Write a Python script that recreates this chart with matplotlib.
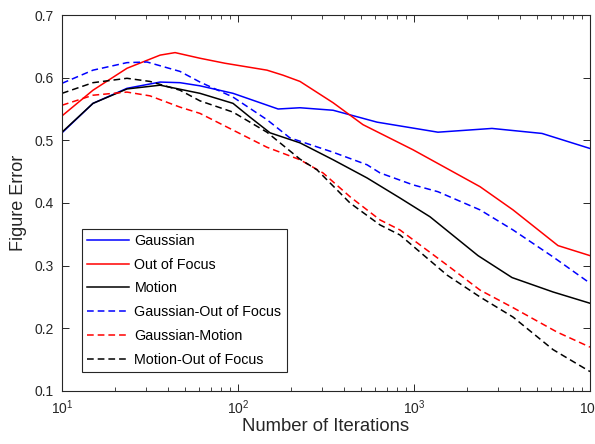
import matplotlib
matplotlib.use("Agg")
import matplotlib.pyplot as plt
from matplotlib.ticker import LogLocator, NullFormatter

plt.rcParams['font.family'] = ['Liberation Sans', 'DejaVu Sans']
plt.rcParams['mathtext.fontset'] = 'custom'
plt.rcParams['mathtext.rm'] = 'Liberation Sans'
plt.rcParams['mathtext.it'] = 'Liberation Sans:italic'

# error curves vs. iteration count, one (x, y) pair per blur type
gauss_x = [10, 15.0, 23.4, 36.1, 46.8, 60.8, 93.7, 169, 225, 347, 617, 1368, 2774, 5336, 10000]
gauss_y = [0.512, 0.559, 0.583, 0.593, 0.592, 0.587, 0.575, 0.550, 0.552, 0.548, 0.529, 0.513, 0.519, 0.511, 0.487]

oof_x = [10, 15.0, 23.4, 36.1, 43.9, 60.8, 84.4, 146, 180, 225, 347, 513, 986, 2373, 3652, 6580, 10000]
oof_y = [0.539, 0.580, 0.615, 0.636, 0.640, 0.631, 0.623, 0.612, 0.604, 0.594, 0.560, 0.525, 0.485, 0.426, 0.389, 0.332, 0.316]

motion_x = [10, 15.0, 23.4, 36.1, 60.8, 93.7, 117, 152, 225, 347, 541, 832, 1233, 2311, 3606, 6166, 10000]
motion_y = [0.513, 0.559, 0.582, 0.588, 0.575, 0.559, 0.537, 0.512, 0.496, 0.469, 0.440, 0.408, 0.378, 0.316, 0.281, 0.258, 0.240]

g_oof_x = [10, 15.0, 23.4, 30.4, 46.8, 60.8, 93.7, 146, 197, 347, 541, 641, 986, 1368, 2373, 3652, 6166, 10000]
g_oof_y = [0.591, 0.612, 0.624, 0.625, 0.610, 0.593, 0.569, 0.533, 0.504, 0.481, 0.461, 0.448, 0.429, 0.418, 0.389, 0.357, 0.314, 0.272]

g_motion_x = [10, 15.0, 23.4, 31.6, 46.8, 60.8, 146, 225, 304, 433, 641, 832, 1540, 2373, 3652, 6500, 10000]
g_motion_y = [0.556, 0.572, 0.577, 0.571, 0.553, 0.543, 0.489, 0.469, 0.448, 0.410, 0.373, 0.357, 0.301, 0.261, 0.233, 0.194, 0.170]

m_oof_x = [10, 15.0, 23.4, 31.6, 46.8, 60.8, 93.7, 146, 225, 281, 433, 641, 832, 1540, 2373, 3652, 6166, 10000]
m_oof_y = [0.575, 0.592, 0.599, 0.594, 0.580, 0.563, 0.545, 0.513, 0.470, 0.453, 0.400, 0.365, 0.349, 0.285, 0.250, 0.218, 0.166, 0.131]

labels = ["Gaussian", "Out of Focus", "Motion",
          "Gaussian-Out of Focus", "Gaussian-Motion", "Motion-Out of Focus"]

axcol = '#262626'
lw = 1.1
dash = (0, (4.4, 2.6))

fig = plt.figure(figsize=(5.95, 4.44), dpi=100)
ax = fig.add_axes([0.1042, 0.1194, 0.8874, 0.8468])

ax.plot(gauss_x, gauss_y, color='blue', lw=lw, label=labels[0])
ax.plot(oof_x, oof_y, color='red', lw=lw, label=labels[1])
ax.plot(motion_x, motion_y, color='black', lw=lw, label=labels[2])
ax.plot(g_oof_x, g_oof_y, color='blue', lw=lw, ls=dash, label=labels[3])
ax.plot(g_motion_x, g_motion_y, color='red', lw=lw, ls=dash, label=labels[4])
ax.plot(m_oof_x, m_oof_y, color='black', lw=lw, ls=dash, label=labels[5])

ax.set_xscale('log')
ax.set_xlim(10, 10000)
ax.set_ylim(0.1, 0.7)
ax.set_yticks([0.1, 0.2, 0.3, 0.4, 0.5, 0.6, 0.7])
ax.set_xticks([10, 100, 1000, 10000])
ax.set_xticklabels([r'$10^{1}$', r'$10^{2}$', r'$10^{3}$', r'$10^{4}$'])
ax.xaxis.set_minor_locator(LogLocator(base=10, subs=range(2, 10)))
ax.xaxis.set_minor_formatter(NullFormatter())

for s in ax.spines.values():
    s.set_color(axcol)
    s.set_linewidth(0.8)
ax.tick_params(which='both', direction='in', top=True, right=True,
               color=axcol, labelcolor=axcol, labelsize=10)
ax.tick_params(which='major', length=5, width=0.7)
ax.tick_params(which='minor', length=3, width=0.6)
ax.tick_params(axis='y', pad=6)
ax.tick_params(axis='x', pad=5)

ax.set_xlabel("Number of Iterations", fontsize=13.3, color=axcol, labelpad=1)
ax.set_ylabel("Figure Error", fontsize=13, color=axcol, labelpad=5)

leg = ax.legend(loc='lower left', bbox_to_anchor=(0.038, 0.05), fontsize=10.3,
                frameon=True, fancybox=False, framealpha=1, edgecolor=axcol,
                handlelength=2.95, handletextpad=0.35, labelspacing=0.69,
                borderpad=0.36, borderaxespad=0)
leg.get_frame().set_linewidth(0.8)

fig.savefig("out.png", dpi=100)
